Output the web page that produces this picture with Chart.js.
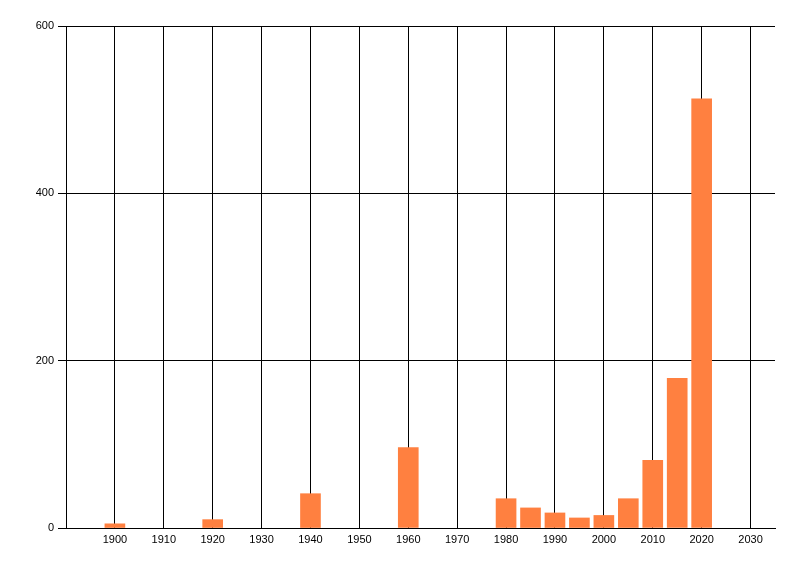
<!DOCTYPE html>
<html>
<head>
<meta charset="utf-8">
<script src="https://cdn.jsdelivr.net/npm/chart.js@4/dist/chart.umd.min.js"></script>
<style>
html,body{margin:0;padding:0;background:#fff;}
#wrap{width:800px;height:576px;position:relative;}
</style>
</head>
<body>
<div id="wrap"><canvas id="c" width="800" height="576"></canvas></div>
<script>
const years = [1900, 1920, 1940, 1960, 1980, 1985, 1990, 1995, 2000, 2005, 2010, 2015, 2020];
const counts = [5, 10, 41, 96, 35, 24, 18, 12, 15, 35, 81, 179, 513];
const xTickValues = [1900, 1910, 1920, 1930, 1940, 1950, 1960, 1970, 1980, 1990, 2000, 2010, 2020, 2030];
const yTickValues = [0, 200, 400, 600];

const points = years.map((y, i) => ({ x: y, y: counts[i] }));
const font = { family: "'Liberation Sans', Arial, sans-serif", size: 11 };

new Chart(document.getElementById('c'), {
  type: 'bar',
  data: {
    datasets: [{
      data: points,
      backgroundColor: '#FF8040',
      borderWidth: 0,
      barThickness: 20
    }]
  },
  options: {
    responsive: false,
    animation: false,
    layout: { padding: { left: 0, top: 26, right: 25, bottom: 0 } },
    plugins: { legend: { display: false }, tooltip: { enabled: false } },
    scales: {
      x: {
        type: 'linear',
        min: 1890,
        max: 2035,
        offset: false,
        grid: { offset: false, color: '#000', lineWidth: 1, drawTicks: false },
        border: { color: '#000', width: 1 },
        afterBuildTicks: s => { s.ticks = xTickValues.map(v => ({ value: v })); },
        afterFit: s => { s.height = 48; },
        ticks: {
          autoSkip: false, maxRotation: 0, padding: 5, color: '#000', font: font,
          callback: v => String(v)
        }
      },
      y: {
        min: 0,
        max: 600,
        grid: { color: '#000', lineWidth: 1, drawTicks: true, tickLength: 8, tickColor: '#000' },
        border: { color: '#000', width: 1 },
        afterBuildTicks: s => { s.ticks = yTickValues.map(v => ({ value: v })); },
        afterFit: s => { s.width = 66; },
        ticks: { padding: 4, color: '#000', font: font, callback: v => String(v) }
      }
    }
  }
});
</script>
</body>
</html>
